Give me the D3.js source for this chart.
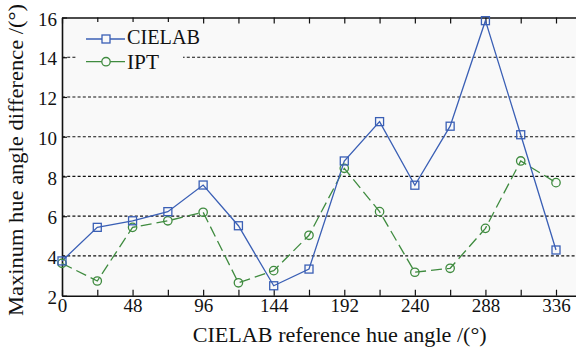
<!DOCTYPE html>
<html>
<head>
<meta charset="utf-8">
<script src="https://cdn.jsdelivr.net/npm/d3@7"></script>
<style>
  html, body { margin: 0; padding: 0; background: #ffffff; }
  svg { display: block; }
  text { font-family: "Liberation Serif", "Times New Roman", serif; fill: #111; }
</style>
</head>
<body>
<svg id="chart" width="576" height="349"></svg>
<script>
// Reference hue angles (degrees)
const hueAngles = [0, 24, 48, 72, 96, 120, 144, 168, 192, 216, 240, 264, 288, 312, 336];
// Maximum hue angle difference per colour space
const cielabValues = [3.75, 5.44, 5.77, 6.23, 7.57, 5.52, 2.50, 3.34, 8.78, 10.76, 7.56, 10.53, 15.84, 10.10, 4.30];
const iptValues    = [3.63, 2.74, 5.44, 5.77, 6.20, 2.65, 3.26, 5.04, 8.41, 6.23, 3.18, 3.38, 5.39, 8.78, 7.69];
// Axis ticks
const xTickLabels = [0, 48, 96, 144, 192, 240, 288, 336];
const xMinorTicks = d3.range(0, 361, 24);
const yTickLabels = [2, 4, 6, 8, 10, 12, 14, 16];
const gridValues = [4, 6, 8, 10, 12, 14];
const seriesNames = ["CIELAB", "IPT"];

const blue = "#3a5fb5";
const green = "#3f8b3f";
const serif = "'Liberation Serif', 'Times New Roman', serif";

const svg = d3.select("#chart");
const plotLeft = 62, plotTop = 17.5, plotBottom = 295.7;
const x = d3.scaleLinear().domain([0, 360]).range([plotLeft, plotLeft + 15 * (494 / 14)]);
const y = d3.scaleLinear().domain([2, 16]).range([plotBottom, plotTop]);

// plot background
svg.append("rect")
  .attr("x", plotLeft).attr("y", plotTop)
  .attr("width", 576 - plotLeft).attr("height", plotBottom - plotTop)
  .attr("fill", "#f9f9f9");

// dashed horizontal grid
svg.append("g").selectAll("line").data(gridValues).join("line")
  .attr("x1", plotLeft).attr("x2", 576)
  .attr("y1", d => y(d)).attr("y2", d => y(d))
  .attr("stroke", "#111").attr("stroke-width", 1.2)
  .attr("stroke-dasharray", "3,2.2");

function styleAxis(g) {
  g.attr("font-family", null).attr("font-size", null);
  g.select(".domain").attr("stroke", "#111").attr("stroke-width", 1.6);
  g.selectAll(".tick line").attr("stroke", "#111").attr("stroke-width", 1.2);
  g.selectAll(".tick text").style("font-family", serif).style("font-size", "19px").attr("fill", "#111");
}

// bottom axis (ticks point inward)
const xAxis = d3.axisBottom(x).tickValues(xMinorTicks).tickSizeInner(-6).tickSizeOuter(0)
  .tickFormat(d => xTickLabels.includes(d) ? d : "");
const gx = svg.append("g").attr("transform", `translate(0,${plotBottom})`).call(xAxis).call(styleAxis);
gx.selectAll(".tick text").attr("y", 3).attr("dy", "0.71em");

// top axis (ticks only)
const xTop = d3.axisTop(x).tickValues(xMinorTicks).tickSizeInner(-6).tickSizeOuter(0).tickFormat("");
svg.append("g").attr("transform", `translate(0,${plotTop})`).call(xTop).call(styleAxis);

// left axis
const yAxis = d3.axisLeft(y).tickValues(yTickLabels).tickSizeInner(-5).tickSizeOuter(0).tickPadding(5);
const gy = svg.append("g").attr("transform", `translate(${plotLeft},0)`).call(yAxis).call(styleAxis);
gy.selectAll(".tick text").attr("dy", "0.4em");

// series lines
const line = d3.line().x((d, i) => x(hueAngles[i])).y(d => y(d));
svg.append("path").datum(iptValues).attr("d", line)
  .attr("fill", "none").attr("stroke", green).attr("stroke-width", 1.3)
  .attr("stroke-dasharray", "11,5");
svg.append("path").datum(cielabValues).attr("d", line)
  .attr("fill", "none").attr("stroke", blue).attr("stroke-width", 1.3);

// markers
svg.append("g").selectAll("circle").data(iptValues).join("circle")
  .attr("cx", (d, i) => x(hueAngles[i])).attr("cy", d => y(d)).attr("r", 4.2)
  .attr("fill", "none").attr("stroke", green).attr("stroke-width", 1.3);
const sq = 8;
svg.append("g").selectAll("rect").data(cielabValues).join("rect")
  .attr("x", (d, i) => x(hueAngles[i]) - sq / 2).attr("y", d => y(d) - sq / 2)
  .attr("width", sq).attr("height", sq)
  .attr("fill", "none").attr("stroke", blue).attr("stroke-width", 1.3);

// legend
const lg = svg.append("g");
lg.append("rect").attr("x", 76).attr("y", 22).attr("width", 107).attr("height", 52).attr("fill", "#f9f9f9");
const legendY = [39, 61.7];
const legendTextY = [44, 69.3];
const legendTextW = [73, 32];
const legendColors = [blue, green];
seriesNames.forEach((name, i) => {
  const ly = legendY[i];
  lg.append("line").attr("x1", 86).attr("x2", 125).attr("y1", ly).attr("y2", ly)
    .attr("stroke", legendColors[i]).attr("stroke-width", 1.3);
  if (i === 0) {
    lg.append("rect").attr("x", 106 - sq / 2).attr("y", ly - sq / 2).attr("width", sq).attr("height", sq)
      .attr("fill", "#f9f9f9").attr("stroke", blue).attr("stroke-width", 1.3);
  } else {
    lg.append("circle").attr("cx", 106).attr("cy", ly).attr("r", 4.2)
      .attr("fill", "#f9f9f9").attr("stroke", green).attr("stroke-width", 1.3);
  }
  lg.append("text").attr("x", 127).attr("y", legendTextY[i]).attr("font-size", 21)
    .attr("textLength", legendTextW[i]).attr("lengthAdjust", "spacingAndGlyphs").text(name);
});

// axis titles
svg.append("text").attr("x", 192.7).attr("y", 341.7)
  .attr("font-size", 20).attr("textLength", 294).attr("lengthAdjust", "spacingAndGlyphs")
  .text("CIELAB reference hue angle /(°)");
svg.append("text").attr("transform", "translate(23,316) rotate(-90)")
  .attr("font-size", 20).attr("textLength", 312).attr("lengthAdjust", "spacingAndGlyphs")
  .text("Maxinum hue angle difference /(°)");
</script>
</body>
</html>
